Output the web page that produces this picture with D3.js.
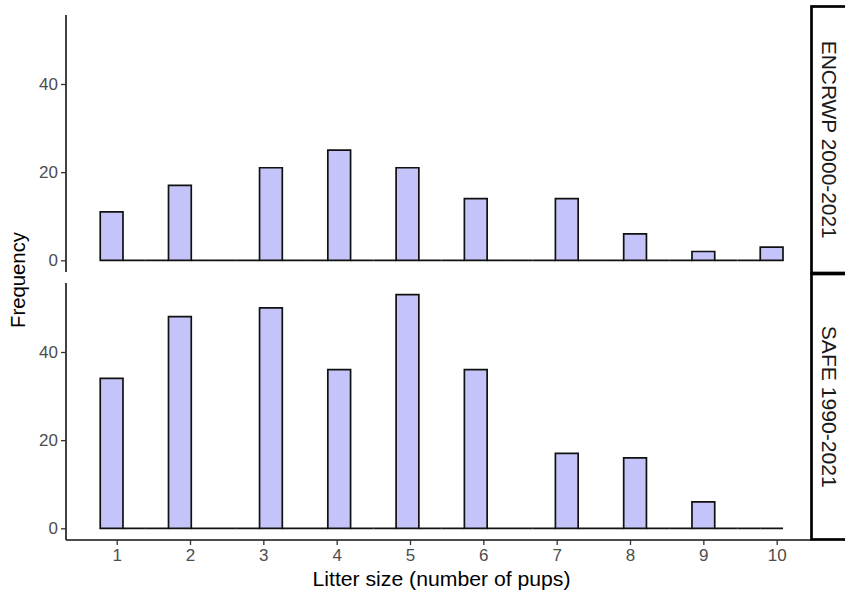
<!DOCTYPE html>
<html>
<head>
<meta charset="utf-8">
<script src="https://cdn.jsdelivr.net/npm/d3@7"></script>
<style>
  html, body { margin: 0; padding: 0; background: #fff; }
  svg { display: block; font-family: "Liberation Sans", Arial, sans-serif; }
</style>
</head>
<body>
<svg id="chart" width="845" height="596"></svg>
<script>
// ---- data ----
const litterSizes = [1, 2, 3, 4, 5, 6, 7, 8, 9, 10];
const encrwpCounts = [11, 17, 21, 25, 21, 14, 14, 6, 2, 3];
const safeCounts   = [34, 48, 50, 36, 53, 36, 17, 16, 6, 0];
const panelNames = ["ENCRWP 2000-2021", "SAFE 1990-2021"];
const xTicks = [1, 2, 3, 4, 5, 6, 7, 8, 9, 10];
const yTicks = [0, 20, 40];
const nBins = 30;

// ---- layout ----
const left = 66, right = 811;
const panels = [
  { name: panelNames[0], counts: encrwpCounts, top: 15, bottom: 272, stripTop: 6.5, stripBottom: 273, textLen: 198 },
  { name: panelNames[1], counts: safeCounts,   top: 283, bottom: 540, stripTop: 274, stripBottom: 539.5, textLen: 162 }
];

const svg = d3.select("#chart");

// histogram binning like ggplot2 stat_bin(bins = 30)
const xMin = d3.min(litterSizes), xMax = d3.max(litterSizes);
const bw = (xMax - xMin) / (nBins - 1);
const boundary = bw / 2;
const origin = boundary + Math.floor((xMin - boundary) / bw) * bw;
const thresholds = d3.range(nBins + 1).map(i => origin + i * bw);

function binCounts(counts) {
  const obs = [];
  litterSizes.forEach((s, i) => { for (let k = 0; k < counts[i]; k++) obs.push(s); });
  const binner = d3.bin().domain([thresholds[0], thresholds[nBins]]).thresholds(thresholds.slice(1, -1));
  return binner(obs).map(b => ({ x0: b.x0, x1: b.x1, n: b.length }));
}

const x = d3.scaleLinear()
  .domain([0.3091, 10.468])
  .range([left, right]);

const allMax = d3.max([...encrwpCounts, ...safeCounts]);
const yDomain = [-allMax * 0.05, allMax * 1.05];

panels.forEach((p, pi) => {
  const y = d3.scaleLinear().domain(yDomain).range([p.bottom, p.top]);
  const bins = binCounts(p.counts);
  const g = svg.append("g");

  g.selectAll("path.bar").data(bins).join("path")
    .attr("class", "bar")
    .attr("d", d => {
      const x0 = x(d.x0), x1 = x(d.x1), y0 = y(0), y1 = y(d.n);
      return `M${x0},${y0}H${x1}V${y1}H${x0}Z`;
    })
    .attr("fill", "#C4C4FA")
    .attr("stroke", "#111")
    .attr("stroke-width", 1.7)
    .attr("stroke-linejoin", "miter");

  // y axis
  const yAxis = g.append("g")
    .attr("transform", `translate(${left},0)`)
    .call(d3.axisLeft(y).tickValues(yTicks).tickSize(5).tickPadding(3));
  yAxis.select(".domain").attr("d", `M0,${p.top}V${p.bottom}`).attr("stroke", "#111").attr("stroke-width", 1.6);
  yAxis.selectAll(".tick line").attr("stroke", "#333").attr("stroke-width", 1.3);
  yAxis.selectAll(".tick text").attr("fill", "#4D4D4D").style("font-size", "17px")
    .style("font-family", "'Liberation Sans', Arial, sans-serif");

  // strip
  svg.append("rect")
    .attr("x", 811.5).attr("y", p.stripTop)
    .attr("width", 60).attr("height", p.stripBottom - p.stripTop)
    .attr("fill", "#fff").attr("stroke", "#000").attr("stroke-width", 2.7);
  const cy = (p.stripTop + p.stripBottom) / 2;
  svg.append("text")
    .attr("transform", `translate(829,${cy}) rotate(90)`)
    .attr("text-anchor", "middle")
    .attr("dy", "0.35em")
    .attr("textLength", p.textLen)
    .attr("lengthAdjust", "spacingAndGlyphs")
    .style("font-size", "20.5px")
    .attr("fill", "#1A1A1A")
    .text(p.name);

  if (pi === panels.length - 1) {
    const xAxis = g.append("g")
      .attr("transform", `translate(0,${p.bottom})`)
      .call(d3.axisBottom(x).tickValues(xTicks).tickSize(5).tickPadding(4).tickFormat(d3.format("d")));
    xAxis.select(".domain").attr("d", `M${left},0H${right}`).attr("stroke", "#111").attr("stroke-width", 1.6);
    xAxis.selectAll(".tick line").attr("stroke", "#333").attr("stroke-width", 1.3);
    xAxis.selectAll(".tick text").attr("fill", "#4D4D4D").style("font-size", "17px")
      .style("font-family", "'Liberation Sans', Arial, sans-serif");
  }
});

// axis titles
svg.append("text")
  .attr("x", 441.5).attr("y", 586)
  .attr("text-anchor", "middle")
  .attr("textLength", 258)
  .attr("lengthAdjust", "spacingAndGlyphs")
  .style("font-size", "20px")
  .attr("fill", "#000")
  .text("Litter size (number of pups)");

svg.append("text")
  .attr("transform", "translate(25,280) rotate(-90)")
  .attr("text-anchor", "middle")
  .attr("textLength", 96)
  .attr("lengthAdjust", "spacingAndGlyphs")
  .style("font-size", "20px")
  .attr("fill", "#000")
  .text("Frequency");
</script>
</body>
</html>
